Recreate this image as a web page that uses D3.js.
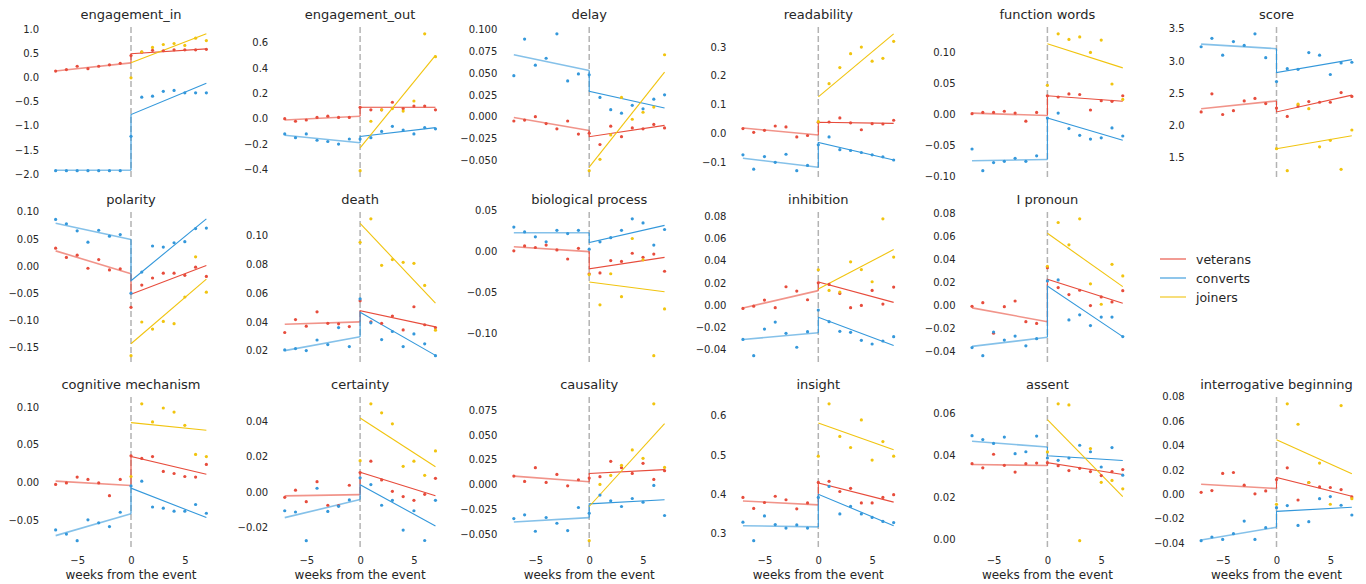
<!DOCTYPE html>
<html>
<head>
<meta charset="utf-8">
<script src="https://cdn.jsdelivr.net/npm/d3@7"></script>
<style>
body { margin: 0; background: #fff; }
text { font-family: "DejaVu Sans", sans-serif; fill: #262626; }
</style>
</head>
<body>
<svg width="1366" height="584"></svg>
<script>
const titles = ["engagement_in", "engagement_out", "delay", "readability", "function words", "score",
    "polarity", "death", "biological process", "inhibition", "I pronoun",
    "cognitive mechanism", "certainty", "causality", "insight", "assent", "interrogative beginning"];

const weeks = d3.range(-7, 8);     // veterans / converts: -7..7
const postWeeks = d3.range(0, 8);  // joiners: 0..7

const groups = ["veterans", "converts", "joiners"];
const colors = ["#e74c3c", "#3498db", "#f1c40f"];

// weekly means, weeks -7..7
const veterans = [
    [0.13, 0.16, 0.23, 0.18, 0.23, 0.26, 0.29, 0.45, 0.52, 0.56, 0.55, 0.57, 0.57, 0.57, 0.58],
    [0.0, -0.02, -0.01, 0.01, 0.02, 0.01, 0.01, 0.09, 0.07, 0.07, 0.13, 0.08, 0.10, 0.10, 0.07],
    [-0.005, -0.004, 0.0, -0.008, -0.014, -0.005, -0.020, -0.019, -0.032, -0.011, -0.023, -0.013, -0.014, -0.009, -0.013],
    [0.016, 0.003, 0.010, 0.025, 0.022, -0.013, -0.008, 0.038, 0.039, 0.053, 0.036, 0.012, 0.033, 0.032, 0.045],
    [0.001, 0.003, 0.003, 0.005, 0.002, -0.011, 0.003, 0.030, 0.028, 0.033, 0.032, 0.007, 0.022, 0.021, 0.030],
    [2.21, 2.49, 2.17, 2.23, 2.38, 2.42, 2.34, 2.27, 2.14, 2.30, 2.37, 2.36, 2.36, 2.51, 2.45],
    [0.033, 0.016, 0.020, -0.004, 0.012, -0.007, -0.005, -0.076, -0.035, -0.022, -0.013, -0.013, -0.017, -0.002, -0.019],
    [0.0326, 0.0416, 0.037, 0.047, 0.039, 0.0386, 0.0367, 0.0547, 0.040, 0.039, 0.044, 0.0344, 0.0505, 0.038, 0.036],
    [0.001, 0.007, 0.005, 0.008, 0.002, -0.009, 0.004, -0.027, -0.026, -0.011, -0.012, -0.002, -0.007, -0.003, -0.024],
    [-0.003, -0.001, 0.0045, -0.0024, 0.0165, 0.0126, 0.0048, 0.020, 0.0186, 0.0105, -0.0024, -0.0003, 0.0132, 0.0009, 0.0162],
    [-0.0006, 0.0026, -0.024, -0.0009, 0.004, -0.014, -0.0155, 0.033, 0.0157, 0.0096, 0.0134, 0.0, 0.0076, 0.0032, 0.013],
    [-0.003, -0.001, 0.0067, 0.0036, -0.001, -0.018, 0.0036, 0.035, 0.0315, 0.034, 0.0142, 0.0115, 0.0075, 0.0067, 0.0235],
    [-0.003, 0.001, -0.0055, 0.0058, -0.0075, -0.0077, 0.0038, 0.011, 0.0174, 0.0068, 0.0004, -0.0026, -0.0047, -0.0013, 0.0077],
    [0.0084, 0.003, 0.0169, 0.002, 0.0101, -0.0014, 0.0047, 0.0064, 0.0078, 0.0233, 0.0169, 0.0111, 0.0213, 0.0051, 0.0139],
    [0.392, 0.364, 0.379, 0.395, 0.386, 0.363, 0.378, 0.430, 0.433, 0.407, 0.415, 0.378, 0.378, 0.392, 0.399],
    [0.036, 0.034, 0.0405, 0.0352, 0.032, 0.036, 0.0363, 0.0365, 0.035, 0.0327, 0.0338, 0.0322, 0.0303, 0.0322, 0.0332],
    [0.0016, 0.003, 0.017, 0.0178, 0.0074, 0.0003, 0.0027, 0.012, 0.0216, -0.0047, 0.0096, 0.006, 0.0055, 0.0038, -0.0022]
];

const converts = [
    [-1.93, -1.93, -1.93, -1.93, -1.93, -1.93, -1.93, -1.22, -0.41, -0.39, -0.29, -0.27, -0.32, -0.32, -0.32],
    [-0.12, -0.15, -0.12, -0.17, -0.18, -0.20, -0.16, -0.16, -0.15, -0.10, -0.06, -0.09, -0.12, -0.07, -0.08],
    [0.047, 0.089, 0.059, 0.067, 0.095, 0.041, 0.049, 0.048, 0.022, 0.008, 0.004, 0.013, 0.009, 0.020, 0.025],
    [-0.075, -0.125, -0.081, -0.101, -0.073, -0.130, -0.112, -0.040, -0.013, -0.057, -0.060, -0.067, -0.075, -0.082, -0.093],
    [-0.056, -0.091, -0.078, -0.076, -0.071, -0.076, -0.067, -0.006, 0.002, -0.023, -0.034, -0.040, -0.038, -0.022, -0.035],
    [3.22, 3.35, 3.09, 3.30, 3.24, 3.42, 3.05, 2.68, 2.88, 2.87, 3.13, 3.09, 2.79, 2.97, 2.98],
    [0.086, 0.078, 0.065, 0.044, 0.066, 0.055, 0.058, -0.050, -0.011, 0.037, 0.035, 0.043, 0.045, 0.069, 0.070],
    [0.0205, 0.0214, 0.020, 0.0274, 0.0242, 0.036, 0.0228, 0.056, 0.0393, 0.0277, 0.0333, 0.0228, 0.0316, 0.0247, 0.0165],
    [0.030, 0.024, 0.018, 0.012, 0.026, 0.022, 0.026, 0.003, 0.012, 0.017, 0.026, 0.040, 0.035, 0.008, 0.027],
    [-0.031, -0.0456, -0.0216, -0.0153, -0.0255, -0.038, -0.024, -0.0045, -0.015, -0.0237, -0.0246, -0.0318, -0.0351, -0.0324, -0.0285],
    [-0.0366, -0.0436, -0.023, -0.030, -0.0265, -0.035, -0.0288, 0.0215, 0.0224, -0.0125, -0.008, -0.0174, -0.010, -0.010, -0.027],
    [-0.0635, -0.069, -0.0777, -0.050, -0.054, -0.059, -0.040, -0.005, 0.0013, -0.033, -0.0346, -0.0386, -0.0386, -0.0297, -0.0413],
    [-0.0106, -0.0113, -0.0275, 0.0021, -0.011, -0.0081, -0.0045, 0.008, 0.0042, -0.0075, -0.0047, -0.0215, -0.0106, -0.0274, -0.0047],
    [-0.0345, -0.0307, -0.0473, -0.0334, -0.0392, -0.0466, -0.0233, -0.029, -0.0108, -0.0166, -0.0223, -0.0142, -0.0179, -0.001, -0.0314],
    [0.329, 0.282, 0.345, 0.323, 0.314, 0.322, 0.314, 0.392, 0.420, 0.350, 0.369, 0.350, 0.341, 0.331, 0.328],
    [0.0494, 0.0475, 0.0457, 0.0487, 0.0408, 0.0417, 0.0492, 0.0387, 0.0376, 0.0387, 0.0448, 0.0417, 0.0344, 0.0437, 0.0305],
    [-0.038, -0.035, -0.037, -0.0323, -0.022, -0.037, -0.0274, -0.011, -0.0093, -0.0255, -0.0225, -0.0036, -0.0019, -0.009, -0.017]
];

// weekly means, weeks 0..7
const joiners = [
    [-0.01, 0.53, 0.62, 0.68, 0.70, 0.66, 0.81, 0.76],
    [-0.41, -0.02, 0.07, 0.08, 0.06, 0.14, 0.67, 0.49],
    [-0.062, -0.049, -0.021, 0.022, -0.003, 0.005, 0.011, 0.071],
    [0.04, 0.172, 0.228, 0.276, 0.299, 0.250, 0.260, 0.319],
    [0.047, 0.130, 0.121, 0.125, 0.100, 0.120, 0.049, 0.024],
    [1.64, 1.30, 2.33, 2.26, 1.67, 1.77, 1.32, 1.93],
    [-0.165, -0.103, -0.116, -0.102, -0.106, -0.057, 0.017, -0.048],
    [0.0953, 0.1116, 0.0793, 0.0833, 0.0814, 0.0807, 0.0653, 0.0342],
    [-0.028, -0.065, -0.027, -0.055, 0.016, -0.010, -0.127, -0.070],
    [0.0318, 0.0132, 0.0117, 0.039, 0.032, 0.021, 0.0777, 0.0432],
    [0.0343, 0.0724, 0.053, 0.0756, 0.019, 0.0012, 0.036, 0.0259],
    [0.0075, 0.104, 0.080, 0.0985, 0.093, 0.0755, 0.0368, 0.034],
    [0.0177, 0.0498, 0.0447, 0.0385, 0.0145, 0.0174, 0.0094, 0.0232],
    [-0.0568, 0.0, 0.0091, 0.0193, 0.0348, 0.0264, 0.0814, 0.0172],
    [0.497, 0.630, 0.547, 0.519, 0.589, 0.487, 0.534, 0.497],
    [0.0416, 0.0646, 0.0641, -0.0008, 0.0432, 0.0271, 0.028, 0.024],
    [-0.0082, 0.074, 0.0573, 0.0096, 0.0255, -0.0082, 0.0726, -0.0036]
];

// fitted lines: [pre at -7, pre at 0, post at 0, post at 7]
const veteransFit = [
    [0.13, 0.30, 0.49, 0.59], [-0.01, 0.02, 0.09, 0.09], [-0.001, -0.016, -0.023, -0.010],
    [0.018, -0.006, 0.038, 0.034], [0.002, -0.002, 0.030, 0.021], [2.26, 2.38, 2.21, 2.47],
    [0.028, -0.014, -0.052, 0.001], [0.0383, 0.040, 0.0477, 0.0365], [0.006, 0.000, -0.021, -0.007],
    [-0.0027, 0.013, 0.0207, 0.0024], [-0.002, -0.014, 0.023, 0.002],
    [0.0013, -0.0044, 0.034, 0.0106], [-0.0022, -0.0015, 0.0111, -0.0021], [0.0084, 0.0027, 0.011, 0.015],
    [0.383, 0.373, 0.429, 0.380], [0.0356, 0.0351, 0.0365, 0.0308], [0.0082, 0.0047, 0.0137, -0.0016]
];
const convertsFit = [
    [-1.92, -1.92, -0.77, -0.12], [-0.13, -0.19, -0.14, -0.07], [0.071, 0.053, 0.029, 0.010],
    [-0.087, -0.118, -0.032, -0.093], [-0.075, -0.073, -0.006, -0.042], [3.26, 3.19, 2.82, 3.02],
    [0.079, 0.049, -0.027, 0.087], [0.0200, 0.0296, 0.0467, 0.0167], [0.023, 0.023, 0.011, 0.032],
    [-0.031, -0.025, -0.011, -0.0365], [-0.0355, -0.0276, 0.017, -0.027],
    [-0.071, -0.042, -0.008, -0.047], [-0.0145, -0.0043, 0.0041, -0.0192], [-0.038, -0.0335, -0.0196, -0.0155],
    [0.320, 0.317, 0.400, 0.320], [0.0467, 0.0440, 0.0398, 0.0375], [-0.0375, -0.027, -0.0140, -0.0107]
];
// joiners only after the event: [at 0, at 7]
const joinersFit = [
    [0.30, 0.90], [-0.23, 0.50], [-0.058, 0.051], [0.126, 0.345], [0.114, 0.075], [1.64, 1.84],
    [-0.143, -0.024], [0.1084, 0.053], [-0.037, -0.049], [0.0145, 0.050], [0.063, 0.0165],
    [0.079, 0.069], [0.0418, 0.0143], [-0.0223, 0.0615], [0.581, 0.513], [0.0571, 0.0203], [0.0447, 0.0168]
];

const yTicks = [
    [-2, -1.5, -1, -0.5, 0, 0.5, 1], [-0.4, -0.2, 0, 0.2, 0.4, 0.6],
    [-0.05, -0.025, 0, 0.025, 0.05, 0.075, 0.1], [-0.1, 0, 0.1, 0.2, 0.3],
    [-0.1, -0.05, 0, 0.05, 0.1], [1.5, 2, 2.5, 3, 3.5],
    [-0.15, -0.1, -0.05, 0, 0.05, 0.1], [0.02, 0.04, 0.06, 0.08, 0.1],
    [-0.1, -0.05, 0, 0.05], [-0.04, -0.02, 0, 0.02, 0.04, 0.06, 0.08],
    [-0.04, -0.02, 0, 0.02, 0.04, 0.06, 0.08],
    [-0.05, 0, 0.05, 0.1], [-0.02, 0, 0.02, 0.04],
    [-0.05, -0.025, 0, 0.025, 0.05, 0.075], [0.3, 0.4, 0.5, 0.6],
    [0, 0.02, 0.04, 0.06], [-0.04, -0.02, 0, 0.02, 0.04, 0.06, 0.08]
];
const xTicks = [-5, 0, 5];

const svg = d3.select("svg");
const firstZero = 131, colW = 229.1, halfW = 82.9;
const rowTop = [27, 212, 397], plotH = 150.5;

function panelPos(i) {
    if (i < 6) return [0, i];
    if (i < 11) return [1, i - 6];
    return [2, i - 11];
}

// number of decimals needed so every tick prints exactly
function decimals(ticks) {
    let p = 0;
    while (p < 6 && ticks.some(t => Math.abs(+t.toFixed(p) - t) > 1e-9)) p++;
    return p;
}

titles.forEach((title, i) => {
    const [row, col] = panelPos(i);
    const zero = firstZero + col * colW;
    const top = rowTop[row], bottom = top + plotH;

    const x = d3.scaleLinear().domain([-7.7, 7.7]).range([zero - halfW, zero + halfW]);
    const all = [].concat(veterans[i], converts[i], joiners[i], veteransFit[i], convertsFit[i], joinersFit[i]);
    const [lo, hi] = d3.extent(all);
    const pad = (hi - lo) * 0.05;
    const y = d3.scaleLinear().domain([lo - pad, hi + pad]).range([bottom, top]);

    const g = svg.append("g");

    g.append("text")
        .attr("x", zero)
        .attr("y", top - 8)
        .attr("text-anchor", "middle")
        .attr("font-size", 13)
        .text(title);

    const fmt = d3.format("." + decimals(yTicks[i]) + "f");
    g.append("g")
        .attr("transform", `translate(${zero - halfW},0)`)
        .call(d3.axisLeft(y).tickValues(yTicks[i]).tickFormat(fmt).tickSize(0).tickPadding(9))
        .call(a => a.select(".domain").remove())
        .selectAll("text").attr("font-size", 10);

    if (row === 2) {
        g.append("g")
            .attr("transform", `translate(0,${bottom})`)
            .call(d3.axisBottom(x).tickValues(xTicks).tickFormat(d3.format("d")).tickSize(0).tickPadding(9))
            .call(a => a.select(".domain").remove())
            .selectAll("text").attr("font-size", 10);
        g.append("text")
            .attr("x", zero)
            .attr("y", bottom + 31)
            .attr("text-anchor", "middle")
            .attr("font-size", 12)
            .text("weeks from the event");
    }

    // event marker
    g.append("line")
        .attr("x1", x(0)).attr("x2", x(0))
        .attr("y1", top).attr("y2", bottom)
        .attr("stroke", "#b3b3b3")
        .attr("stroke-width", 1.5)
        .attr("stroke-dasharray", "6,3");

    const line = d3.line().x(d => x(d[0])).y(d => y(d[1]));

    [veteransFit, convertsFit].forEach((fit, k) => {
        const f = fit[i];
        // pre-event fit, drawn a bit lighter
        g.append("path")
            .attr("d", line([[-7, f[0]], [0, f[1]]]))
            .attr("fill", "none")
            .attr("stroke", colors[k])
            .attr("stroke-opacity", 0.6)
            .attr("stroke-width", 1.6);
        g.append("path")
            .attr("d", line([[0, f[1]], [0, f[2]], [7, f[3]]]))
            .attr("fill", "none")
            .attr("stroke", colors[k])
            .attr("stroke-width", 1.1);
    });
    g.append("path")
        .attr("d", line([[0, joinersFit[i][0]], [7, joinersFit[i][1]]]))
        .attr("fill", "none")
        .attr("stroke", colors[2])
        .attr("stroke-width", 1.1);

    [veterans[i], converts[i]].forEach((vals, k) => {
        g.append("g").selectAll("circle")
            .data(vals)
            .enter().append("circle")
            .attr("cx", (d, j) => x(weeks[j]))
            .attr("cy", d => y(d))
            .attr("r", 1.6)
            .attr("fill", colors[k]);
    });
    g.append("g").selectAll("circle")
        .data(joiners[i])
        .enter().append("circle")
        .attr("cx", (d, j) => x(postWeeks[j]))
        .attr("cy", d => y(d))
        .attr("r", 1.6)
        .attr("fill", colors[2]);
});

// legend in the empty slot
const legend = svg.append("g").attr("transform", "translate(1160,259)");
groups.forEach((name, k) => {
    const row = legend.append("g").attr("transform", `translate(0,${k * 19})`);
    row.append("line")
        .attr("x1", 0).attr("x2", 26)
        .attr("stroke", colors[k])
        .attr("stroke-width", 1.1);
    row.append("text")
        .attr("x", 36)
        .attr("y", 4.5)
        .attr("font-size", 12.5)
        .text(name);
});
</script>
</body>
</html>
